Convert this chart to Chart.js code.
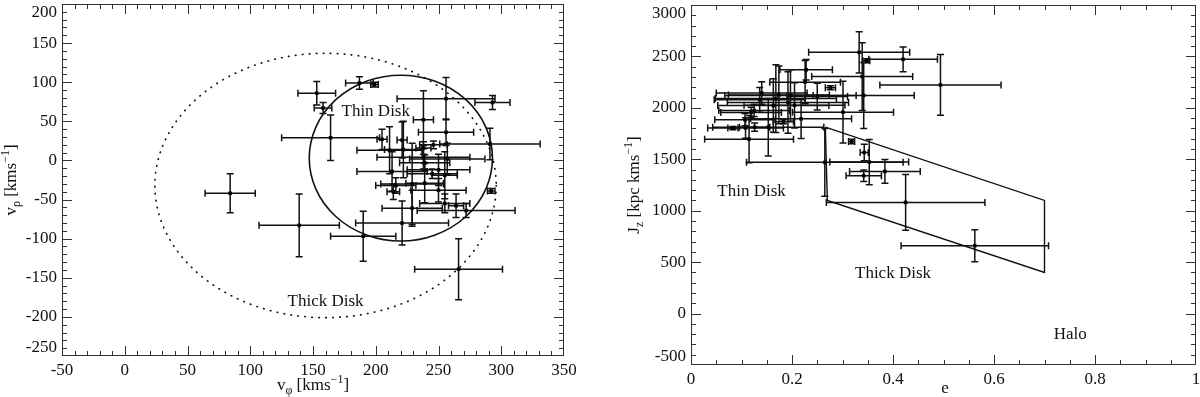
<!DOCTYPE html>
<html>
<head>
<meta charset="utf-8">
<script src="https://cdn.jsdelivr.net/npm/chart.js@4.4.1/dist/chart.umd.min.js"></script>
<style>
html, body { margin: 0; padding: 0; background: #fff; }
#wrap { position: relative; width: 1200px; height: 397px; }
.box { position: absolute; top: 0; width: 600px; height: 397px; }
</style>
</head>
<body>
<div id="wrap">
  <div class="box" style="left:0"><canvas id="velocity" width="600" height="397"></canvas></div>
  <div class="box" style="left:600px"><canvas id="action" width="600" height="397"></canvas></div>
</div>
<script>
// left panel: v_phi / v_rho with errors (km/s)
var vPhi    = [84, 139, 190, 266, 153, 158, 164, 187, 199, 221, 229, 256, 293, 238, 256, 205, 221, 291, 246, 238, 211, 222, 238, 257, 239, 250, 213, 255, 245, 229, 239, 216, 214, 250, 255, 264, 272, 292];
var vRho    = [-42, -83, -97, -139, 86, 67, 29, 99, 97, -80, -61, 79, 74, 52, 36, 27, 26, 21, 20, 16, 13, 14, 4, 2, -3, -12, -14, -19, -17, -30, -29, -32, -40, -38, -55, -58, -64, -39];
var vPhiErr = [20, 32, 26, 35, 15, 7, 39, 11, 3, 37, 24, 39, 14, 8, 22, 4, 4, 40, 11, 6, 26, 15, 37, 30, 20, 25, 28, 10, 20, 25, 15, 16, 5, 22, 20, 6, 39, 3];
var vRhoErr = [25, 40, 32, 39, 15, 7, 29, 8, 3, 28, 23, 27, 9, 37, 17, 13, 23, 20, 5, 8, 30, 36, 15, 20, 10, 20, 25, 30, 6, 52, 25, 10, 10, 15, 12, 15, 9, 3];

// velocity ellipses (centre, semi axes)
var thinDiskEllipse  = { cx: 220, cy: 3, rx: 73, ry: 106 };
var thickDiskEllipse = { cx: 160, cy: -32, rx: 136, ry: 169 };

// right panel: eccentricity / J_z with errors
var ecc    = [0.562, 0.425, 0.265, 0.353, 0.343, 0.342, 0.384, 0.318, 0.494, 0.420, 0.333, 0.347, 0.339, 0.301, 0.342, 0.228, 0.226, 0.276, 0.250, 0.140, 0.174, 0.136, 0.192, 0.163, 0.205, 0.125, 0.119, 0.218, 0.183, 0.107, 0.108, 0.083, 0.126, 0.153, 0.115, 0.197, 0.168];
var jz     = [660, 1081, 1470, 1473, 1566, 1340, 1382, 1673, 2223, 2472, 2540, 2458, 2304, 1958, 2120, 2370, 2250, 2195, 2110, 2145, 2126, 2078, 2052, 2022, 2025, 1975, 1955, 1893, 1865, 1885, 1805, 1803, 1812, 1812, 1696, 2120, 2090];
var eccErr = [0.146, 0.157, 0.155, 0.078, 0.008, 0.035, 0.07, 0.006, 0.12, 0.068, 0.1, 0.007, 0.1, 0.1, 0.1, 0.052, 0.07, 0.01, 0.06, 0.09, 0.1, 0.09, 0.12, 0.11, 0.1, 0.07, 0.06, 0.1, 0.02, 0.06, 0.075, 0.01, 0.03, 0.11, 0.088, 0.13, 0.12];
var jzErr  = [155, 270, 330, 220, 80, 55, 115, 22, 295, 120, 200, 20, 330, 300, 320, 100, 210, 20, 130, 110, 280, 120, 300, 260, 220, 60, 50, 190, 20, 60, 100, 15, 40, 280, 230, 250, 330];

// thick disk box in the e - Jz plane
var boxE  = [0.266, 0.70, 0.70, 0.27, 0.266];
var boxJz = [1812, 1100, 400, 1100, 1812];

var leftNotes  = [{ text: 'Thin Disk', x: 200, y: 62 }, { text: 'Thick Disk', x: 160, y: -181 }];
var rightNotes = [{ text: 'Thin Disk', x: 0.12, y: 1190 }, { text: 'Thick Disk', x: 0.40, y: 390 }, { text: 'Halo', x: 0.751, y: -205 }];

var FONT = '"Liberation Serif", "DejaVu Serif", serif';
var INK = '#111';

function points(xs, ys) {
  return xs.map(function (v, i) { return { x: v, y: ys[i] }; });
}

// text made of runs: [text, size, baseline shift]
function drawRuns(c, runs, x, y, rotate) {
  c.save();
  c.translate(x, y);
  if (rotate) c.rotate(-Math.PI / 2);
  var total = 0;
  runs.forEach(function (r) { c.font = r[1] + 'px ' + FONT; total += c.measureText(r[0]).width; });
  var pos = -total / 2;
  c.fillStyle = INK;
  c.textBaseline = 'middle';
  c.textAlign = 'left';
  runs.forEach(function (r) {
    c.font = r[1] + 'px ' + FONT;
    c.fillText(r[0], pos, r[2]);
    pos += c.measureText(r[0]).width;
  });
  c.restore();
}

function makeDecor(cfg) {
  return {
    id: 'decor',
    beforeDraw: function (chart) {
      // first and last y labels sit inside the frame
      var items = chart.scales.y.getLabelItems();
      if (items.length) {
        items[0].options.textBaseline = 'bottom';
        items[items.length - 1].options.textBaseline = 'top';
      }
    },
    beforeDatasetsDraw: function (chart) {
      var c = chart.ctx, xs = chart.scales.x, ys = chart.scales.y, a = chart.chartArea;
      var cap = 3.5;
      c.save();
      c.beginPath();
      c.rect(a.left, a.top, a.right - a.left, a.bottom - a.top);
      c.clip();
      (cfg.ellipses || []).forEach(function (el) {
        var cx = xs.getPixelForValue(el.shape.cx), cy = ys.getPixelForValue(el.shape.cy);
        var rx = Math.abs(xs.getPixelForValue(el.shape.cx + el.shape.rx) - cx);
        var ry = Math.abs(ys.getPixelForValue(el.shape.cy + el.shape.ry) - cy);
        c.beginPath();
        c.setLineDash(el.dash);
        c.lineCap = el.dash.length ? 'round' : 'butt';
        c.lineWidth = el.width;
        c.strokeStyle = INK;
        c.ellipse(cx, cy, rx, ry, 0, 0, Math.PI * 2);
        c.stroke();
      });
      c.setLineDash([]);
      c.lineCap = 'butt';
      c.strokeStyle = INK;
      c.lineWidth = 1.5;
      for (var i = 0; i < cfg.x.length; i++) {
        var px = xs.getPixelForValue(cfg.x[i]), py = ys.getPixelForValue(cfg.y[i]);
        var x0 = xs.getPixelForValue(cfg.x[i] - cfg.ex[i]), x1 = xs.getPixelForValue(cfg.x[i] + cfg.ex[i]);
        var y0 = ys.getPixelForValue(cfg.y[i] - cfg.ey[i]), y1 = ys.getPixelForValue(cfg.y[i] + cfg.ey[i]);
        c.beginPath();
        c.moveTo(x0, py); c.lineTo(x1, py);
        c.moveTo(x0, py - cap); c.lineTo(x0, py + cap);
        c.moveTo(x1, py - cap); c.lineTo(x1, py + cap);
        c.moveTo(px, y0); c.lineTo(px, y1);
        c.moveTo(px - cap, y0); c.lineTo(px + cap, y0);
        c.moveTo(px - cap, y1); c.lineTo(px + cap, y1);
        c.stroke();
      }
      c.restore();
    },
    afterDraw: function (chart) {
      var c = chart.ctx, xs = chart.scales.x, ys = chart.scales.y, a = chart.chartArea;
      c.save();
      c.strokeStyle = '#333';
      c.lineWidth = 1;
      c.strokeRect(Math.round(a.left) + 0.5, Math.round(a.top) + 0.5, Math.round(a.right - a.left) - 1, Math.round(a.bottom - a.top) - 1);
      // inward ticks on all four sides
      function run(scale, step, len, horiz) {
        var n = Math.round((scale.max - scale.min) / step);
        c.beginPath();
        for (var k = 1; k < n; k++) {
          var p = Math.round(scale.getPixelForValue(scale.min + k * step)) + 0.5;
          if (horiz) {
            c.moveTo(p, a.bottom); c.lineTo(p, a.bottom - len);
            c.moveTo(p, a.top); c.lineTo(p, a.top + len);
          } else {
            c.moveTo(a.left, p); c.lineTo(a.left + len, p);
            c.moveTo(a.right, p); c.lineTo(a.right - len, p);
          }
        }
        c.stroke();
      }
      run(xs, cfg.xMinor, 5, true);
      run(xs, cfg.xMajor, 10, true);
      run(ys, cfg.yMinor, 5, false);
      run(ys, cfg.yMajor, 10, false);
      c.fillStyle = INK;
      c.font = '17px ' + FONT;
      c.textAlign = 'center';
      c.textBaseline = 'middle';
      cfg.notes.forEach(function (n) {
        c.fillText(n.text, xs.getPixelForValue(n.x), ys.getPixelForValue(n.y));
      });
      c.restore();
      drawRuns(c, cfg.xTitle, cfg.xTitlePos[0], cfg.xTitlePos[1], false);
      drawRuns(c, cfg.yTitle, cfg.yTitlePos[0], cfg.yTitlePos[1], true);
    }
  };
}

function tickText(v) { return String(parseFloat(Number(v).toFixed(3))); }

function scaleOpts(min, max, step, pad, fit) {
  return {
    type: 'linear', min: min, max: max,
    ticks: { stepSize: step, autoSkip: false, maxRotation: 0, padding: pad, color: INK, font: { family: FONT, size: 17 }, callback: tickText },
    grid: { display: false, drawTicks: false },
    border: { display: false },
    afterFit: fit
  };
}

function panel(id, cfg) {
  return new Chart(document.getElementById(id).getContext('2d'), {
    type: 'scatter',
    data: { datasets: cfg.datasets },
    options: {
      responsive: false,
      animation: false,
      layout: { padding: { top: cfg.top, right: cfg.right, left: 0, bottom: 0 } },
      plugins: { legend: { display: false }, tooltip: { enabled: false } },
      scales: {
        x: scaleOpts(cfg.xr[0], cfg.xr[1], cfg.xMajor, 4, function (s) { s.height = cfg.xh; s.paddingLeft = 0; s.paddingRight = 0; }),
        y: scaleOpts(cfg.yr[0], cfg.yr[1], cfg.yMajor, 5, function (s) { s.width = cfg.yw; s.paddingTop = 0; s.paddingBottom = 0; })
      }
    },
    plugins: [makeDecor(cfg)]
  });
}

var dot = { pointStyle: 'rect', pointRadius: 2.5, backgroundColor: '#000', borderColor: '#000', borderWidth: 0 };

panel('velocity', {
  datasets: [Object.assign({ label: 'stars', data: points(vPhi, vRho) }, dot)],
  x: vPhi, y: vRho, ex: vPhiErr, ey: vRhoErr,
  ellipses: [{ shape: thickDiskEllipse, dash: [0.5, 6.5], width: 1.7 }, { shape: thinDiskEllipse, dash: [], width: 1.6 }],
  notes: leftNotes,
  xr: [-50, 350], yr: [-250, 200], xMajor: 50, xMinor: 10, yMajor: 50, yMinor: 10,
  top: 1, right: 36, xh: 41, yw: 62,
  xTitle: [['v', 17, 0], ['\u03c6', 12, 5], [' [kms', 17, 0], ['\u22121', 12, -6], [']', 17, 0]],
  yTitle: [['v', 17, 0], ['\u03c1', 12, 5], [' [kms', 17, 0], ['\u22121', 12, -6], [']', 17, 0]],
  xTitlePos: [313, 386], yTitlePos: [12, 180]
});

panel('action', {
  datasets: [
    Object.assign({ label: 'stars', data: points(ecc, jz) }, dot),
    { label: 'thick disk', data: points(boxE, boxJz), showLine: true, pointRadius: 0, borderColor: INK, borderWidth: 1.4, fill: false }
  ],
  x: ecc, y: jz, ex: eccErr, ey: jzErr,
  ellipses: [],
  notes: rightNotes,
  xr: [0, 1], yr: [-500, 3000], xMajor: 0.2, xMinor: 0.05, yMajor: 500, yMinor: 100,
  top: 5, right: 3, xh: 32, yw: 91,
  xTitle: [['e', 17, 0]],
  yTitle: [['J', 17, 0], ['z', 12, 5], [' [kpc kms', 17, 0], ['\u22121', 12, -6], [']', 17, 0]],
  xTitlePos: [345, 389], yTitlePos: [35, 185]
});
</script>
</body>
</html>
